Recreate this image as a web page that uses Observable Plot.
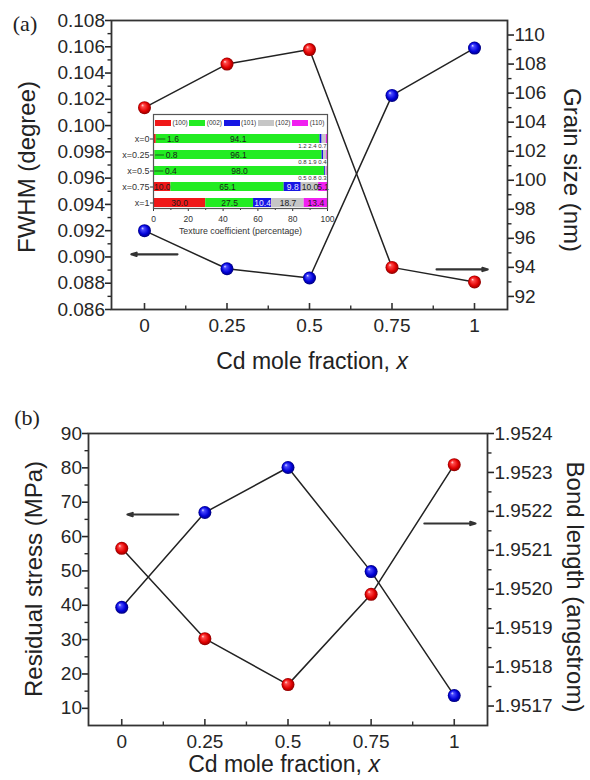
<!DOCTYPE html>
<html><head><meta charset="utf-8">
<script src="https://cdn.jsdelivr.net/npm/d3@7"></script>
<script src="https://cdn.jsdelivr.net/npm/@observablehq/plot@0.6"></script>
<style>
html,body{margin:0;padding:0;background:#fff;}
#page{position:relative;width:590px;height:780px;overflow:hidden;background:#fff;font-family:"Liberation Sans",Arial,sans-serif;color:#222;}
.layer{position:absolute;}
.ttl{position:absolute;white-space:nowrap;line-height:1;font-family:"Liberation Sans",Arial,sans-serif;color:#222;}
.plab{position:absolute;white-space:nowrap;line-height:1;font-family:"Liberation Serif","Times New Roman",serif;font-size:22px;color:#222;}
#legA .tcleg-swatches{font-size:6.5px !important;min-height:0 !important;margin:0 !important;font-family:"Liberation Sans",Arial,sans-serif !important;color:#333;}
#legA .tcleg-swatch{margin-right:1.6px !important;}
#legA .tcleg-swatch > svg{margin-right:1.5px !important;}
</style></head>
<body>
<svg width="0" height="0" style="position:absolute">
<defs>
<radialGradient id="ballRed" cx="50%" cy="50%" r="50%" fx="33%" fy="30%">
<stop offset="0%" stop-color="#ffe6e6"/>
<stop offset="22%" stop-color="#ff4a4a"/>
<stop offset="70%" stop-color="#e00000"/>
<stop offset="100%" stop-color="#8c0000"/>
</radialGradient>
<radialGradient id="ballBlue" cx="50%" cy="50%" r="50%" fx="33%" fy="30%">
<stop offset="0%" stop-color="#e6e6ff"/>
<stop offset="22%" stop-color="#4a4aff"/>
<stop offset="70%" stop-color="#0000d6"/>
<stop offset="100%" stop-color="#00007a"/>
</radialGradient>
</defs>
</svg>
<div id="page"></div>
<script>
// ---------- shared x ----------
const xFrac = [0, 0.25, 0.5, 0.75, 1];
const xTickLabels = ["0", "0.25", "0.5", "0.75", "1"];
const xMinorTicks = [0.125, 0.375, 0.625, 0.875];
const xDomain = [-0.1, 1.1];

// ---------- panel (a) ----------
const fwhmDeg = [0.0920, 0.0891, 0.0884, 0.1023, 0.1059];      // blue, left axis
const grainSizeNm = [105.0, 108.0, 109.0, 94.0, 93.0];          // red, right axis
const fwhmDomain = [0.086, 0.108];
const grainDomain = [91.1, 111.0];
const fwhmTicks = [0.086, 0.088, 0.090, 0.092, 0.094, 0.096, 0.098, 0.100, 0.102, 0.104, 0.106, 0.108];
const fwhmMinorTicks = [0.087, 0.089, 0.091, 0.093, 0.095, 0.097, 0.099, 0.101, 0.103, 0.105, 0.107];
const grainTicks = [92, 94, 96, 98, 100, 102, 104, 106, 108, 110];
const grainMinorTicks = [93, 95, 97, 99, 101, 103, 105, 107, 109];
const arrowsALeft = [{x1: 0.10, x2: -0.04, y: 0.0902}];
const arrowsARight = [{x1: 0.885, x2: 1.04, y: 93.86}];

// ---------- panel (b) ----------
const residualStressMPa = [39.4, 67.0, 80.1, 49.8, 13.7];        // blue, left axis
const bondLengthA = [1.952105, 1.951873, 1.951755, 1.951987, 1.952320]; // red, right axis
const stressDomain = [5, 90];
const bondDomain = [1.95165, 1.9524];
const stressTicks = [10, 20, 30, 40, 50, 60, 70, 80, 90];
const stressMinorTicks = [15, 25, 35, 45, 55, 65, 75, 85];
const bondTicks = [1.9517, 1.9518, 1.9519, 1.9520, 1.9521, 1.9522, 1.9523, 1.9524];
const bondMinorTicks = [1.95175, 1.95185, 1.95195, 1.95205, 1.95215, 1.95225, 1.95235];
const arrowsBLeft = [{x1: 0.17, x2: 0.017, y: 66.4}];
const arrowsBRight = [{x1: 0.91, x2: 1.064, y: 1.952169}];

// ---------- inset: texture coefficient ----------
const planes = ["(100)", "(002)", "(101)", "(102)", "(110)"];
const planeColors = ["#f01818", "#22ec22", "#1616e4", "#c6c6c6", "#f020f0"];
const rowLabels = ["x=0", "x=0.25", "x=0.5", "x=0.75", "x=1"];
const tc100 = [1.6, 0.8, 0.4, 10.0, 30.0];
const tc002 = [94.1, 96.1, 98.0, 65.1, 27.5];
const tc101 = [1.2, 0.8, 0.5, 9.8, 10.4];
const tc102 = [2.4, 1.9, 0.8, 10.0, 18.7];
const tc110 = [0.7, 0.4, 0.3, 5.1, 13.4];
const tcTicks = [0, 20, 40, 60, 80, 100];
const tcMinorTicks = [10, 30, 50, 70, 90];

const FONT = "'Liberation Sans', Arial, sans-serif";
const page = document.getElementById("page");

function place(node, left, top, id) {
  const d = document.createElement("div");
  d.className = "layer";
  d.style.left = left + "px";
  d.style.top = top + "px";
  if (id) d.id = id;
  d.appendChild(node);
  page.appendChild(d);
  return d;
}
function addTitle(html, cx, cy, size, rotate, cls) {
  const d = document.createElement("div");
  d.className = cls || "ttl";
  d.innerHTML = html;
  d.style.left = cx + "px";
  d.style.top = cy + "px";
  if (size) d.style.fontSize = size + "px";
  d.style.transform = `translate(-50%,-50%) rotate(${rotate || 0}deg)`;
  page.appendChild(d);
}

function panel(cfg) {
  const W = 590, H = 390;
  const ph = H - cfg.mt - cfg.mb;
  const data = xFrac.map((x, i) => ({x, left: cfg.leftVals[i], right: cfg.rightVals[i]}));
  const common = {
    width: W, height: H,
    marginLeft: cfg.ml, marginRight: cfg.mr, marginTop: cfg.mt, marginBottom: cfg.mb,
    style: {fontFamily: FONT, fontSize: "19px", color: "#262626", background: "transparent"}
  };
  const base = Plot.plot({
    ...common,
    x: {domain: xDomain},
    y: {domain: cfg.leftDomain},
    marks: [
      Plot.axisX(xFrac, {tickSize: 0, tickPadding: 9, fontSize: 19, label: null,
        tickFormat: d => xTickLabels[xFrac.indexOf(d)]}),
      Plot.tickX(xFrac, {x: d => d, insetTop: ph - 6, strokeWidth: 1.6, stroke: "#333"}),
      Plot.tickX(xMinorTicks, {x: d => d, insetTop: ph - 3.5, strokeWidth: 1.4, stroke: "#333"}),
      Plot.axisY(cfg.leftTicks, {anchor: "left", tickSize: 6, tickPadding: 0.5, fontSize: 19,
        strokeWidth: 1.6, tickFormat: cfg.leftFmt, label: null}),
      Plot.axisY(cfg.leftMinor, {anchor: "left", tickSize: 3.5, strokeWidth: 1.4,
        tickFormat: () => "", label: null}),
      Plot.line(data, {x: "x", y: "left", stroke: "#222", strokeWidth: 1.5}),
      Plot.arrow(cfg.leftArrows, {x1: "x1", x2: "x2", y1: "y", y2: "y", stroke: "#333",
        strokeWidth: 2.1, headLength: 4, headAngle: 35}),
      Plot.dot(data, {x: "x", y: "left", r: 6.5, fill: "url(#ballBlue)"}),
      Plot.frame({stroke: "#333", strokeWidth: 1.8})
    ]
  });
  const over = Plot.plot({
    ...common,
    x: {domain: xDomain, axis: null},
    y: {domain: cfg.rightDomain},
    marks: [
      Plot.axisY(cfg.rightTicks, {anchor: "right", tickSize: 6, tickPadding: 1, fontSize: 19,
        strokeWidth: 1.6, tickFormat: cfg.rightFmt, label: null}),
      Plot.axisY(cfg.rightMinor, {anchor: "right", tickSize: 3.5, strokeWidth: 1.4,
        tickFormat: () => "", label: null}),
      Plot.line(data, {x: "x", y: "right", stroke: "#222", strokeWidth: 1.5}),
      Plot.arrow(cfg.rightArrows, {x1: "x1", x2: "x2", y1: "y", y2: "y", stroke: "#333",
        strokeWidth: 2.1, headLength: 4, headAngle: 35}),
      Plot.dot(data, {x: "x", y: "right", r: 6.5, fill: "url(#ballRed)"})
    ]
  });
  place(base, 0, cfg.top);
  place(over, 0, cfg.top);
}

panel({
  top: 0, ml: 111, mr: 83, mt: 20, mb: 81,
  leftVals: fwhmDeg, rightVals: grainSizeNm,
  leftDomain: fwhmDomain, rightDomain: grainDomain,
  leftTicks: fwhmTicks, leftMinor: fwhmMinorTicks,
  rightTicks: grainTicks, rightMinor: grainMinorTicks,
  leftFmt: d3.format(".3f"), rightFmt: d => String(d),
  leftArrows: arrowsALeft, rightArrows: arrowsARight
});
panel({
  top: 390, ml: 88, mr: 103, mt: 43, mb: 55,
  leftVals: residualStressMPa, rightVals: bondLengthA,
  leftDomain: stressDomain, rightDomain: bondDomain,
  leftTicks: stressTicks, leftMinor: stressMinorTicks,
  rightTicks: bondTicks, rightMinor: bondMinorTicks,
  leftFmt: d => String(d), rightFmt: d3.format(".4f"),
  leftArrows: arrowsBLeft, rightArrows: arrowsBRight
});

// ---------- inset ----------
const tcSeries = [tc100, tc002, tc101, tc102, tc110];
const texture = rowLabels.flatMap((row, i) => planes.map((plane, j) => ({row, plane, value: tcSeries[j][i]})));
const rows = rowLabels.map((row, i) => ({
  row, v100: tc100[i],
  rest: [tc101[i], tc102[i], tc110[i]],
  total: tcSeries.reduce((s, a) => s + a[i], 0)
}));
const small100 = rows.filter(d => d.v100 < 5);
const smallRest = rows.filter(d => d.rest.every(v => v < 5));

const inset = Plot.plot({
  width: 240, height: 142, marginLeft: 53, marginRight: 13, marginTop: 10, marginBottom: 38,
  style: {fontFamily: FONT, background: "transparent", color: "#333"},
  x: {domain: [0, 100]},
  y: {domain: rowLabels, paddingInner: 0.45, paddingOuter: 0, insetTop: 19},
  color: {domain: planes, range: planeColors},
  marks: [
    Plot.frame({fill: "white", stroke: null}),
    Plot.barX(texture, Plot.stackX({x: "value", y: "row", fill: "plane"})),
    Plot.text(texture, Plot.stackX({x: "value", y: "row",
      text: d => (d.value >= 5 && d.plane !== "(101)") ? d.value.toFixed(1) : "",
      fill: "#1c1c1c", fontSize: 8.5})),
    Plot.text(texture, Plot.stackX({x: "value", y: "row",
      text: d => (d.value >= 5 && d.plane === "(101)") ? d.value.toFixed(1) : "",
      fill: "#e8e8ff", fontSize: 8.5})),
    Plot.ruleY(small100, {y: "row", x1: d => d.v100 + 0.4, x2: d => d.v100 + 5.5, stroke: "#1d5c1d", strokeWidth: 1}),
    Plot.text(small100, {y: "row", x: d => d.v100 + 6.2, text: d => d.v100.toFixed(1),
      textAnchor: "start", fontSize: 8.5, fill: "#1c1c1c"}),
    Plot.text(smallRest, {y: "row", x: d => d.total, dy: 7, dx: -1,
      text: d => d.rest.map(v => v.toFixed(1)).join(" "), textAnchor: "end", fontSize: 6, fill: "#333"}),
    Plot.axisY(rowLabels, {anchor: "left", tickSize: 3, tickPadding: 1, fontSize: 9, label: null}),
    Plot.axisX(tcTicks, {tickSize: 3, tickPadding: 4, fontSize: 8.5, label: null}),
    Plot.axisX(tcMinorTicks, {tickSize: 2, tickFormat: () => "", label: null}),
    Plot.text(["Texture coefficient (percentage)"], {text: d => d, frameAnchor: "bottom", dy: 25, fontSize: 8.8, fill: "#333"}),
    Plot.frame({stroke: "#555", strokeWidth: 1.2})
  ]
});
place(inset, 100, 104);

const leg = Plot.legend({
  color: {type: "ordinal", domain: planes, range: planeColors},
  legend: "swatches", swatchWidth: 16, swatchHeight: 6, className: "tcleg"
});
place(leg, 155, 119, "legA");

// ---------- titles ----------
addTitle("(a)", 25, 24, null, 0, "plab");
addTitle("(b)", 27, 418, null, 0, "plab");
addTitle("FWHM (degree)", 26.5, 167, 24, -90);
addTitle("Grain size (nm)", 571.5, 170, 24, 90);
addTitle("Cd mole fraction, <i>x</i>", 312, 361, 23, 0);
addTitle("Residual stress (MPa)", 33.5, 579, 24, -90);
addTitle("Bond length (angstrom)", 575, 587, 24, 90);
addTitle("Cd mole fraction, <i>x</i>", 284, 764, 23, 0);
</script>
</body></html>
